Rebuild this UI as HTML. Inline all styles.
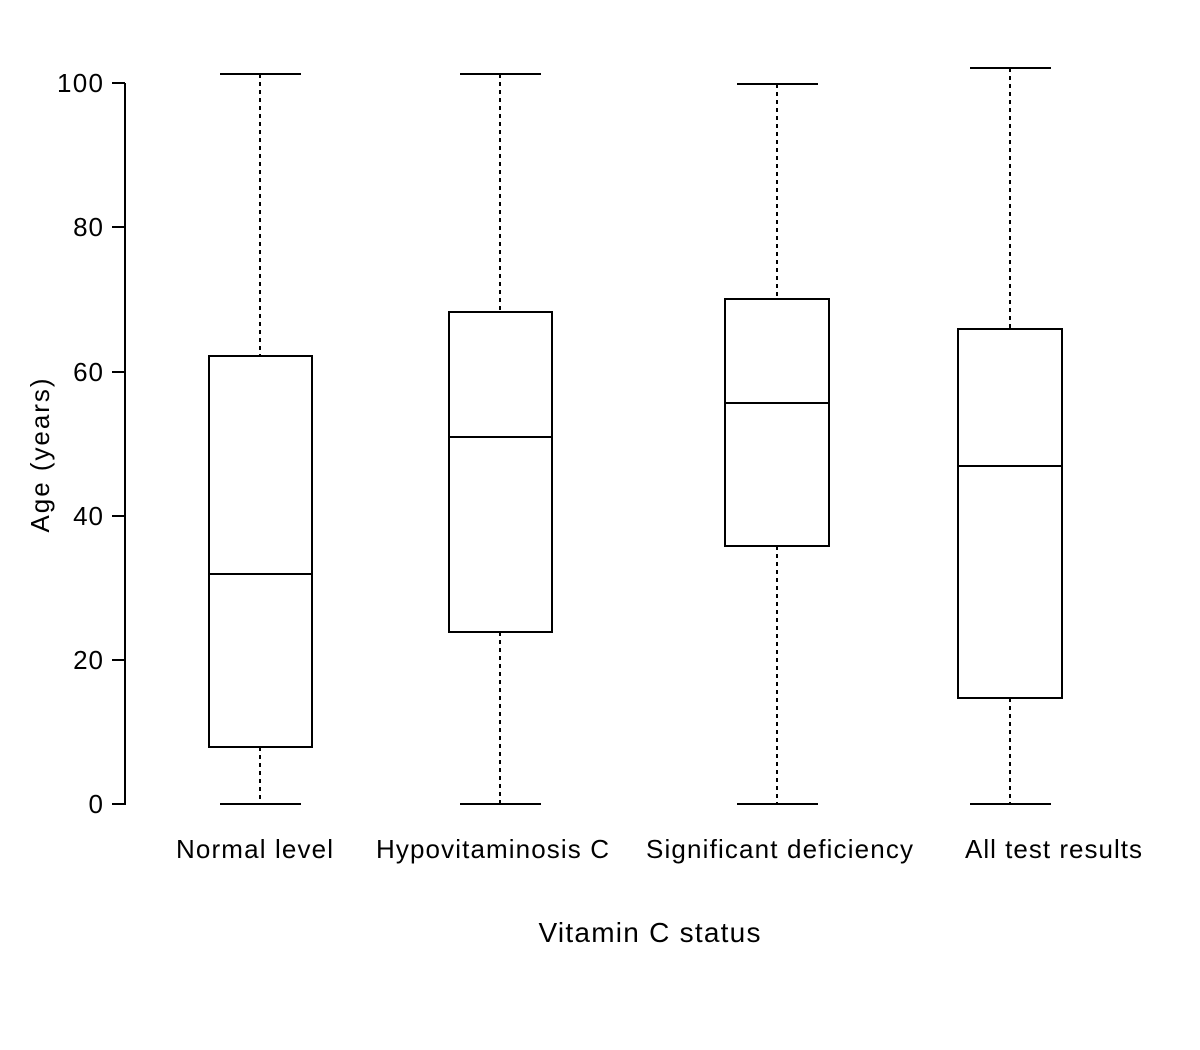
<!DOCTYPE html>
<html><head><meta charset="utf-8"><style>html,body{margin:0;padding:0;background:#fff}</style></head><body>
<svg width="1200" height="1045" viewBox="0 0 1200 1045" xmlns="http://www.w3.org/2000/svg" font-family="Liberation Sans, sans-serif" fill="none" stroke="#000" stroke-width="2">
<line x1="125" y1="83" x2="125" y2="805"/>
<g>
<line x1="112" y1="83" x2="125" y2="83"/><line x1="112" y1="227" x2="125" y2="227"/><line x1="112" y1="372" x2="125" y2="372"/><line x1="112" y1="516" x2="125" y2="516"/><line x1="112" y1="660" x2="125" y2="660"/><line x1="112" y1="804" x2="125" y2="804"/>
</g>
<g fill="#000" stroke="none" font-size="26" text-anchor="end" letter-spacing="1">
<text x="104" y="92" textLength="47">100</text><text x="104" y="236">80</text><text x="104" y="381">60</text><text x="104" y="525">40</text><text x="104" y="669">20</text><text x="104" y="813">0</text>
<text x="0" y="0" transform="translate(49,455) rotate(-90)" text-anchor="middle" textLength="155">Age (years)</text>
<g text-anchor="middle">
<text x="255" y="858" textLength="158">Normal level</text>
<text x="493" y="858" textLength="234">Hypovitaminosis C</text>
<text x="780" y="858" textLength="268">Significant deficiency</text>
<text x="1054" y="858" textLength="178">All test results</text>
<text x="650" y="942" font-size="28" textLength="223">Vitamin C status</text>
</g>
</g>
<g stroke-dasharray="4,4">
<line x1="260" y1="74" x2="260" y2="356"/><line x1="260" y1="747" x2="260" y2="804"/>
<line x1="500" y1="74" x2="500" y2="312"/><line x1="500" y1="632" x2="500" y2="804"/>
<line x1="777" y1="84" x2="777" y2="299"/><line x1="777" y1="546" x2="777" y2="804"/>
<line x1="1010" y1="68" x2="1010" y2="329"/><line x1="1010" y1="698" x2="1010" y2="804"/>
</g>
<g>
<line x1="220" y1="74" x2="301" y2="74"/><line x1="220" y1="804" x2="301" y2="804"/>
<rect x="209" y="356" width="103" height="391"/><line x1="209" y1="574" x2="312" y2="574"/>
<line x1="460" y1="74" x2="541" y2="74"/><line x1="460" y1="804" x2="541" y2="804"/>
<rect x="449" y="312" width="103" height="320"/><line x1="449" y1="437" x2="552" y2="437"/>
<line x1="737" y1="84" x2="818" y2="84"/><line x1="737" y1="804" x2="818" y2="804"/>
<rect x="725" y="299" width="104" height="247"/><line x1="725" y1="403" x2="829" y2="403"/>
<line x1="970" y1="68" x2="1051" y2="68"/><line x1="970" y1="804" x2="1051" y2="804"/>
<rect x="958" y="329" width="104" height="369"/><line x1="958" y1="466" x2="1062" y2="466"/>
</g>
</svg>
</body></html>
